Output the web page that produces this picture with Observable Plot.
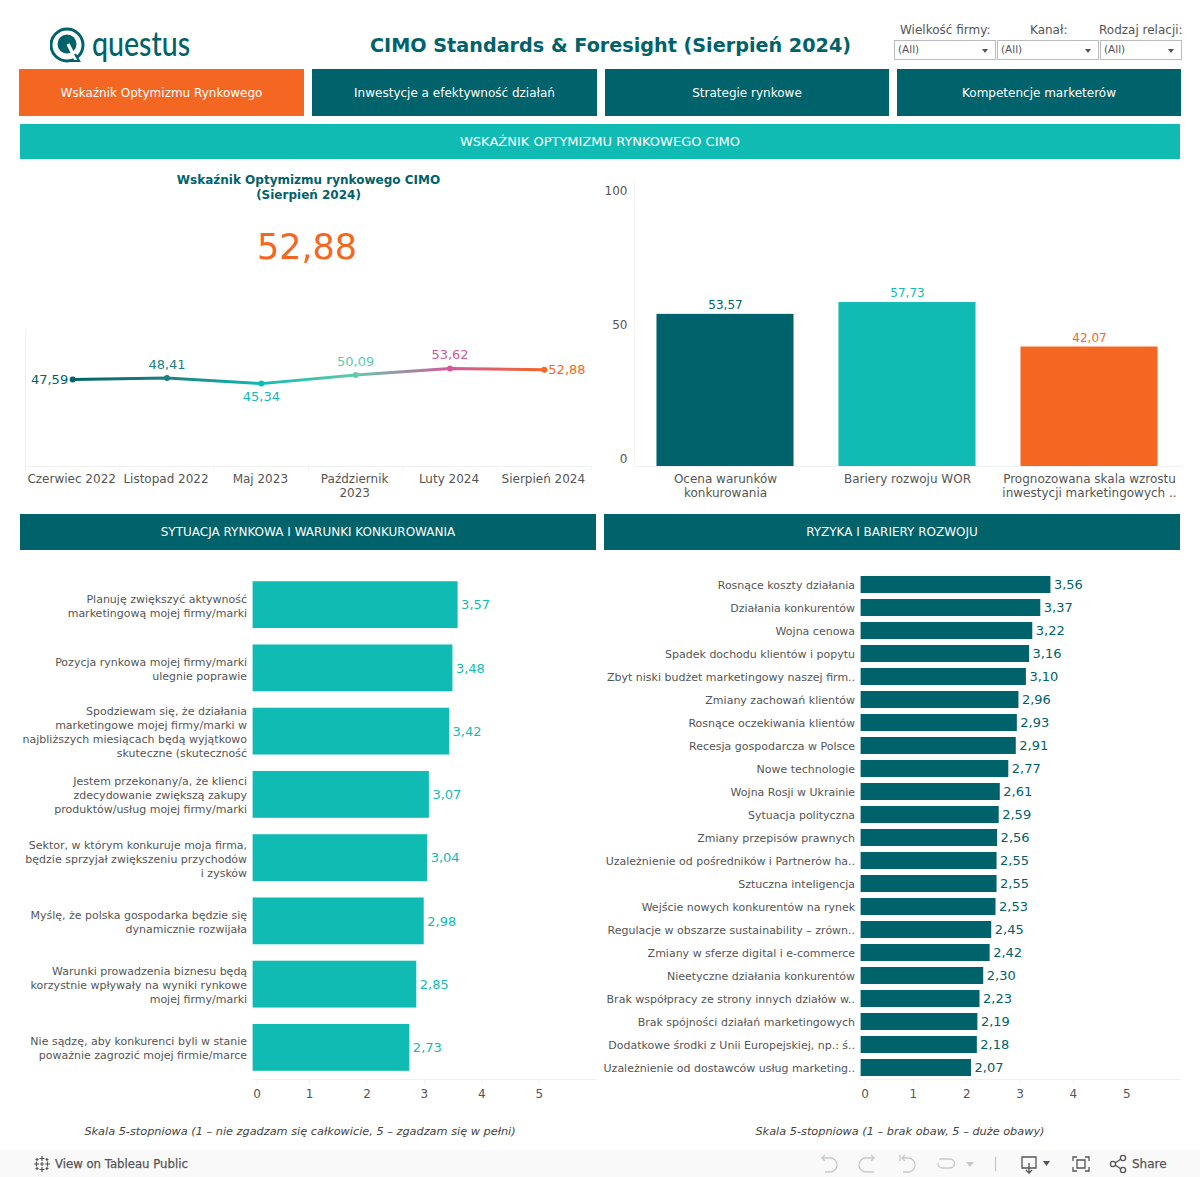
<!DOCTYPE html>
<html lang="pl">
<head>
<meta charset="utf-8">
<title>CIMO Standards & Foresight</title>
<script src="https://cdn.jsdelivr.net/npm/d3@7"></script>
<script src="https://cdn.jsdelivr.net/npm/@observablehq/plot@0.6"></script>
<style>
html,body{margin:0;padding:0;background:#fff;}
#page{position:relative;width:1200px;height:1177px;overflow:hidden;font-family:"DejaVu Sans",sans-serif;background:#fff;}
#page>*{position:absolute;}
.box{display:flex;align-items:center;justify-content:center;color:#fff;font-size:12px;white-space:nowrap;}
.lbl{font-size:12px;color:#555;white-space:nowrap;line-height:14px;}
.sel{box-sizing:border-box;height:20px;border:1px solid #bbb;font-size:10.5px;color:#555;padding:1px 3px;line-height:14px;}
.sel:after{content:"";position:absolute;right:7px;top:8px;border-left:3px solid transparent;border-right:3px solid transparent;border-top:4px solid #555;}
.cap{font-size:11px;font-style:italic;color:#444;text-align:center;white-space:nowrap;}
</style>
</head>
<body>
<div id="page"></div>
<script>
const DARK = "#00626a", TEAL = "#0fbbb2", ORANGE = "#f46723", GREY = "#555555", FAINT = "#f0f0f0";

const tabs = ["Wskaźnik Optymizmu Rynkowego", "Inwestycje a efektywność działań", "Strategie rynkowe", "Kompetencje marketerów"];

const months = ["Czerwiec 2022", "Listopad 2022", "Maj 2023", "Październik\n2023", "Luty 2024", "Sierpień 2024"];
const monthIndex = [0, 1, 2, 3, 4, 5];
const indexValues = [47.59, 48.41, 45.34, 50.09, 53.62, 52.88];
const indexColors = [DARK, "#1f7f7f", TEAL, "#62c9ae", "#d2599a", ORANGE];
const bandEdges = [-0.5, 0.5, 1.5, 2.5, 3.5, 4.5, 5.5];

const pillars = ["Ocena warunków\nkonkurowania", "Bariery rozwoju WOR", "Prognozowana skala wzrostu\ninwestycji marketingowych .."];
const pillarValues = [53.57, 57.73, 42.07];
const pillarColors = [DARK, TEAL, ORANGE];

const marketLabels = [
  "Planuję zwiększyć aktywność\nmarketingową mojej firmy/marki",
  "Pozycja rynkowa mojej firmy/marki\nulegnie poprawie",
  "Spodziewam się, że działania\nmarketingowe mojej firmy/marki w\nnajbliższych miesiącach będą wyjątkowo\nskuteczne (skuteczność",
  "Jestem przekonany/a, że klienci\nzdecydowanie zwiększą zakupy\nproduktów/usług mojej firmy/marki",
  "Sektor, w którym konkuruje moja firma,\nbędzie sprzyjał zwiększeniu przychodów\ni zysków",
  "Myślę, że polska gospodarka będzie się\ndynamicznie rozwijała",
  "Warunki prowadzenia biznesu będą\nkorzystnie wpływały na wyniki rynkowe\nmojej firmy/marki",
  "Nie sądzę, aby konkurenci byli w stanie\npoważnie zagrozić mojej firmie/marce"
];
const marketValues = [3.57, 3.48, 3.42, 3.07, 3.04, 2.98, 2.85, 2.73];

const riskLabels = [
  "Rosnące koszty działania", "Działania konkurentów", "Wojna cenowa", "Spadek dochodu klientów i popytu",
  "Zbyt niski budżet marketingowy naszej firm..", "Zmiany zachowań klientów", "Rosnące oczekiwania klientów",
  "Recesja gospodarcza w Polsce", "Nowe technologie", "Wojna Rosji w Ukrainie", "Sytuacja polityczna",
  "Zmiany przepisów prawnych", "Uzależnienie od pośredników i Partnerów ha..", "Sztuczna inteligencja",
  "Wejście nowych konkurentów na rynek", "Regulacje w obszarze sustainability – zrówn..", "Zmiany w sferze digital i e-commerce",
  "Nieetyczne działania konkurentów", "Brak współpracy ze strony innych działów w..", "Brak spójności działań marketingowych",
  "Dodatkowe środki z Unii Europejskiej, np.: ś..", "Uzależnienie od dostawców usług marketing.."
];
const riskValues = [3.56, 3.37, 3.22, 3.16, 3.10, 2.96, 2.93, 2.91, 2.77, 2.61, 2.59, 2.56, 2.55, 2.55, 2.53, 2.45, 2.42, 2.30, 2.23, 2.19, 2.18, 2.07];

const fmt = v => v.toFixed(2).replace(".", ",");
const page = document.getElementById("page");
function place(node, x, y) { node.style.left = x + "px"; node.style.top = y + "px"; page.appendChild(node); return node; }
function html(str) { const t = document.createElement("template"); t.innerHTML = str.trim(); return t.content.firstChild; }
function box(text, x, y, w, h, bg, fs = 12) { const n = html(`<div class="box" style="width:${w}px;height:${h}px;background:${bg};font-size:${fs}px"></div>`); n.textContent = text; place(n, x, y); }
function text(str, x, y, css, cls = "lbl") { const n = html(`<div class="${cls}" style="${css}"></div>`); n.innerHTML = str; place(n, x, y); return n; }
const plotStyle = {fontFamily: "DejaVu Sans", background: "transparent", overflow: "visible"};

/* ---------- header ---------- */
place(html(`<svg width="40" height="40" viewBox="0 0 40 40"><circle cx="17" cy="18" r="16" fill="none" stroke="${DARK}" stroke-width="3"/><circle cx="17" cy="17" r="9.5" fill="${DARK}"/><path d="M18 17 L27 35" stroke="#fff" stroke-width="3.4"/><path d="M20 34 L29 34 L25 27" fill="none" stroke="${DARK}" stroke-width="2.2"/></svg>`), 50, 27);
text("questus", 92, 24, `font:500 34px Lato,sans-serif;color:${DARK};line-height:38px;transform:scaleX(.84);transform-origin:0 0`);
text("CIMO Standards &amp; Foresight (Sierpień 2024)", 370, 33, `font:bold 19.2px 'DejaVu Sans';color:${DARK};line-height:25px;white-space:nowrap`);
text("Wielkość firmy:", 900, 23, "");
text("Kanał:", 1030, 23, "");
text("Rodzaj relacji:", 1099, 23, "");
[[894, 102], [997, 102], [1100, 82]].forEach(([x, w]) => {
  const n = html(`<div class="sel" style="width:${w}px">(All)</div>`); place(n, x, 40);
});
box(tabs[0], 19, 69, 285, 47, ORANGE);
box(tabs[1], 312, 69, 285, 47, DARK);
box(tabs[2], 605, 69, 284, 47, DARK);
box(tabs[3], 897, 69, 284, 47, DARK);
box("WSKAŹNIK OPTYMIZMU RYNKOWEGO CIMO", 20, 124, 1160, 35, TEAL, 13);
box("SYTUACJA RYNKOWA I WARUNKI KONKUROWANIA", 20, 514, 576, 36, DARK);
box("RYZYKA I BARIERY ROZWOJU", 604, 514, 576, 36, DARK);

/* ---------- KPI ---------- */
text("Wskaźnik Optymizmu rynkowego CIMO<br>(Sierpień 2024)", 108.5, 173, `font:bold 12px 'DejaVu Sans';color:${DARK};text-align:center;width:400px;line-height:14.5px`);
text(fmt(indexValues[5]), 207, 225, `font:35px 'DejaVu Sans';color:${ORANGE};text-align:center;width:200px;line-height:44px`);

/* ---------- trend line ---------- */
const trendLabel = (i, opts) => Plot.text([monthIndex[i]], {x: d => d, y: d => indexValues[d], text: d => fmt(indexValues[d]), fill: indexColors[i], fontSize: 13, ...opts});
const gradient = () => {
  const grad = d3.create("svg:linearGradient").attr("id", "trend-grad");
  indexColors.forEach((c, i) => grad.append("stop").attr("offset", i / (indexColors.length - 1)).attr("stop-color", c));
  const defs = d3.create("svg:defs"); defs.append(() => grad.node()); return defs.node();
};
place(Plot.plot({
  width: 600, height: 190, marginLeft: 25, marginRight: 9, marginTop: 10, marginBottom: 44,
  style: plotStyle,
  x: {type: "linear", domain: [-0.5, 5.5], axis: null},
  y: {domain: [0, 74.4], axis: null},
  marks: [
    gradient,
    Plot.ruleY([0], {stroke: FAINT}),
    Plot.ruleX([-0.5], {stroke: FAINT}),
    Plot.ruleX(bandEdges, {y1: () => 0, y2: () => 0, insetBottom: -5, stroke: FAINT}),
    Plot.axisX(monthIndex, {anchor: "bottom", tickSize: 0, tickPadding: 6, tickFormat: i => months[i], fontSize: 12, fill: GREY, lineHeight: 1.2, lineAnchor: "top", dx: -1}),
    Plot.line(monthIndex, {x: d => d, y: d => indexValues[d], stroke: "url(#trend-grad)", strokeWidth: 3}),
    Plot.dot(monthIndex, {x: d => d, y: d => indexValues[d], r: 3, fill: d => indexColors[d]}),
    trendLabel(0, {dx: -4.5, textAnchor: "end"}),
    trendLabel(1, {dy: -13}),
    trendLabel(2, {dy: 13}),
    trendLabel(3, {dy: -13}),
    trendLabel(4, {dy: -14}),
    trendLabel(5, {dx: 4, textAnchor: "start"})
  ]
}), 0, 320);

/* ---------- pillars ---------- */
place(Plot.plot({
  width: 600, height: 340, marginLeft: 34, marginRight: 20, marginTop: 22, marginBottom: 34,
  style: plotStyle,
  x: {domain: pillars, paddingInner: 0.247, paddingOuter: 0.1235, round: false, axis: null},
  y: {domain: [0, 100], axis: null},
  marks: [
    Plot.barY(pillars, {x: d => d, y: (d, i) => pillarValues[i], fill: (d, i) => pillarColors[i]}),
    Plot.text(pillars, {x: d => d, y: (d, i) => pillarValues[i], text: (d, i) => fmt(pillarValues[i]), fill: (d, i) => pillarColors[i], dy: -9, fontSize: 12}),
    Plot.frame({anchor: "bottom", stroke: FAINT}),
    Plot.frame({anchor: "left", stroke: FAINT}),
    Plot.axisX({anchor: "bottom", label: null, tickSize: 0, tickPadding: 6, fontSize: 12, fill: GREY, lineHeight: 1.2, lineAnchor: "top"}),
    Plot.axisY([100], {anchor: "left", label: null, tickSize: 0, tickPadding: 7, fontSize: 12, fill: GREY, dy: 9}),
    Plot.axisY([50], {anchor: "left", label: null, tickSize: 0, tickPadding: 7, fontSize: 12, fill: GREY, dy: 1}),
    Plot.axisY([0], {anchor: "left", label: null, tickSize: 0, tickPadding: 7, fontSize: 12, fill: GREY, dy: -7})
  ]
}), 600, 160);

/* ---------- lower bars ---------- */
function hbars(labels, values, opts) {
  const idx = labels.map((_, i) => i);
  return Plot.plot({
    width: opts.width, height: 560, marginLeft: opts.left, marginRight: 0, marginTop: 3, marginBottom: 51,
    style: plotStyle,
    x: {domain: [0, opts.max], axis: null},
    y: {domain: labels, paddingInner: 0.26, paddingOuter: 0.13, round: false, axis: null},
    marks: [
      Plot.barX(idx, {x: i => values[i], y: i => labels[i], fill: opts.color}),
      Plot.text(idx, {x: i => values[i], y: i => labels[i], text: i => fmt(values[i]), fill: opts.color, textAnchor: "start", dx: 3, fontSize: 13}),
      Plot.frame({anchor: "bottom", stroke: FAINT}),
      Plot.axisY({anchor: "left", label: null, tickSize: 0, tickPadding: 6, fontSize: 11, fill: GREY, lineHeight: 1.27}),
      Plot.axisX([1, 2, 3, 4, 5], {anchor: "bottom", label: null, tickSize: 5, stroke: FAINT, fill: GREY, tickPadding: 5, fontSize: 12, dx: -1}),
      Plot.axisX([0], {anchor: "bottom", label: null, tickSize: 5, stroke: FAINT, fill: GREY, tickPadding: 5, fontSize: 12, dx: 4})
    ]
  });
}
place(hbars(marketLabels, marketValues, {width: 596, left: 252.6, max: 5.98, color: TEAL}), 0, 570);
place(hbars(riskLabels, riskValues, {width: 580, left: 260.6, max: 5.99, color: DARK}), 600, 570);

text("Skala 5-stopniowa (1 – nie zgadzam się całkowicie, 5 – zgadzam się w pełni)", 0, 1125, "width:600px;line-height:14px;font-size:11.3px", "cap");
text("Skala 5-stopniowa (1 – brak obaw, 5 – duże obawy)", 600, 1125, "width:600px;line-height:14px;font-size:11.3px", "cap");

/* ---------- footer ---------- */
place(html(`<div style="width:1200px;height:27px;background:#f9f9f9"></div>`), 0, 1150);
place(html(`<svg width="18" height="18" viewBox="0 0 18 18" stroke="#555" stroke-width="1.2" fill="none"><path d="M9 1v5M6.5 3.5h5M9 12v5M6.5 14.5h5M1 9h5M3.5 6.5v5M12 9h5M14.5 6.5v5M4 3v3M2.5 4.5h3M14 3v3M12.5 4.5h3M4 12v3M2.5 13.5h3M14 12v3M12.5 13.5h3M9 7v4M7 9h4"/></svg>`), 33, 1155);
text("View on Tableau Public", 55, 1157, "font-size:11.7px;color:#555;-webkit-text-stroke:0.25px #555");
place(html(`<svg width="370" height="27" viewBox="0 0 370 27" fill="none" stroke="#c9c9c9" stroke-width="1.3"><path d="M2 8h8a7 7 0 0 1 0 14H5M5 5L2 8l3 3"/><path d="M54 8h-8a7 7 0 0 0 0 14h8M51 5l3 3-3 3"/><path d="M80 5v6M82 8h6a7 7 0 0 1 0 14h-5M85 5l-3 3 3 3"/><path d="M119 9h11a4.500 4.500 0 0 1 0 9h-8a4.500 4.500 0 0 1-4-5"/><path d="M146 12h8l-4 5z" fill="#c9c9c9" stroke="none"/><path d="M175.500 7v14"/><g stroke="#555"><path d="M202 7h14v11h-14zM209 13v10M206 20l3 3 3-3"/><path d="M223 11h7l-3.500 5z" fill="#555" stroke="none"/><path d="M253 11V7h4M265 7h4v4M269 17v4h-4M257 21h-4v-4M257 10h8v8h-8z"/><circle cx="293" cy="14" r="2.600"/><circle cx="303" cy="8" r="2.600"/><circle cx="303" cy="20" r="2.600"/><path d="M295 13l6-4M295 15l6 4"/></g></svg>`), 820, 1150);
text("Share", 1132, 1157, "font-size:12px;color:#555;-webkit-text-stroke:0.25px #555");
</script>
</body>
</html>
